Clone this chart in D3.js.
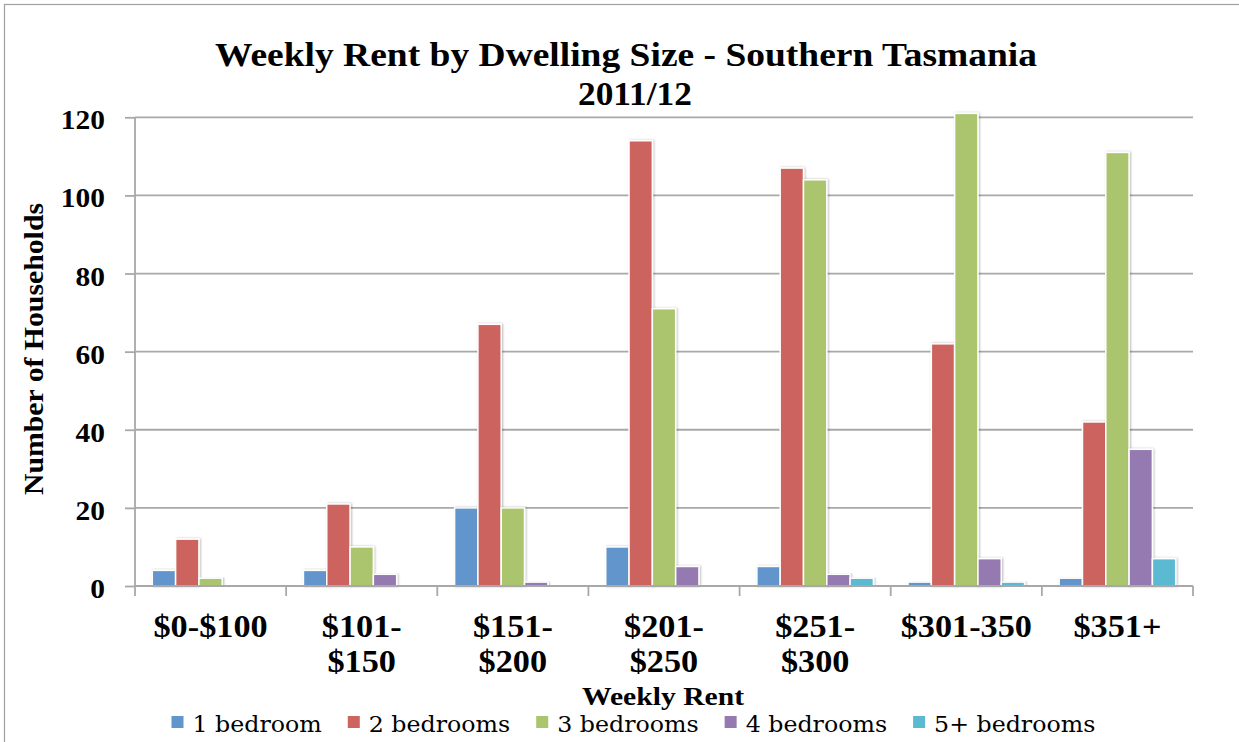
<!DOCTYPE html>
<html>
<head>
<meta charset="utf-8">
<script src="https://cdn.jsdelivr.net/npm/d3@7"></script>
<style>
  html, body { margin: 0; padding: 0; background: #fff; }
  svg { display: block; }
</style>
</head>
<body>
<svg id="chart" width="1239" height="742"></svg>
<script>
// ---- data ----
const categories = ["$0-$100", "$101-$150", "$151-$200", "$201-$250", "$251-$300", "$301-350", "$351+"];
const xTickLines = [["$0-$100"], ["$101-", "$150"], ["$151-", "$200"], ["$201-", "$250"], ["$251-", "$300"], ["$301-350"], ["$351+"]];
const seriesNames = ["1 bedroom", "2 bedrooms", "3 bedrooms", "4 bedrooms", "5+ bedrooms"];
const oneBedroom   = [4, 4, 20, 10, 5, 1, 2];
const twoBedrooms  = [12, 21, 67, 114, 107, 62, 42];
const threeBedrooms= [2, 10, 20, 71, 104, 121, 111];
const fourBedrooms = [0, 3, 1, 5, 3, 7, 35];
const fivePlusBedrooms = [0, 0, 0, 0, 2, 1, 7];
const yTicks = [0, 20, 40, 60, 80, 100, 120];
const seriesColors = ["#6295CB", "#CD645E", "#ABC46E", "#947AB1", "#5BB9D2"];

const seriesValues = [oneBedroom, twoBedrooms, threeBedrooms, fourBedrooms, fivePlusBedrooms];

// ---- layout ----
const svg = d3.select("#chart");
const plot = { left: 135, right: 1193, top: 117.3, bottom: 586 };
const boldFont = "'Liberation Serif', 'Times New Roman', serif";
const regFont = "'DejaVu Serif', serif";
const gridColor = "#a8a8a8";

function stretch(sel, k) {
  sel.each(function () {
    const l = this.getComputedTextLength();
    d3.select(this).attr("textLength", l * k).attr("lengthAdjust", "spacingAndGlyphs");
  });
}

// frame
svg.append("rect").attr("x", 4.5).attr("y", 4.5).attr("width", 1250).attr("height", 760)
  .attr("fill", "#fff").attr("stroke", "#a0a0a0").attr("stroke-width", 1.2);

// shadow filter
const defs = svg.append("defs");
const f = defs.append("filter").attr("id", "shadow").attr("x", "-30%").attr("y", "-10%").attr("width", "160%").attr("height", "120%");
f.append("feDropShadow").attr("dx", 1).attr("dy", 0).attr("stdDeviation", 1.3)
  .attr("flood-color", "#000").attr("flood-opacity", 0.28);

// scales
const x0 = d3.scaleBand().domain(categories).range([plot.left, plot.right])
  .paddingInner(0.229).paddingOuter(0.1145);
const x1 = d3.scaleBand().domain(seriesNames).range([0, x0.bandwidth()]);
const y = d3.scaleLinear().domain([0, 120]).range([plot.bottom, plot.top]);

// gridlines
svg.append("g").selectAll("line").data(yTicks.filter(d => d > 0)).join("line")
  .attr("x1", plot.left).attr("x2", plot.right)
  .attr("y1", d => y(d)).attr("y2", d => y(d))
  .attr("stroke", gridColor).attr("stroke-width", 1.8);

// y axis
const yAxis = svg.append("g").attr("transform", `translate(${plot.left},0)`)
  .call(d3.axisLeft(y).tickValues(yTicks).tickSize(10).tickPadding(20).tickFormat(d3.format("d")));
yAxis.select(".domain").attr("stroke", gridColor).attr("stroke-width", 1.8)
  .attr("d", `M0,${plot.top}V${plot.bottom}`);
yAxis.selectAll(".tick line").attr("stroke", gridColor).attr("stroke-width", 1.8);
yAxis.selectAll(".tick text")
  .attr("font-family", boldFont).attr("font-weight", "bold").attr("font-size", 27)
  .attr("fill", "#000").attr("dy", 11.5)
  .call(stretch, 1.09);

// bars
const groups = svg.append("g").selectAll("g").data(categories).join("g")
  .attr("transform", d => `translate(${x0(d)},0)`);
groups.selectAll("rect")
  .data((c, i) => seriesNames.map((s, j) => ({ s, j, v: seriesValues[j][i] })).filter(d => d.v > 0))
  .join("rect")
  .attr("x", d => x1(d.s))
  .attr("width", x1.bandwidth())
  .attr("y", d => y(d.v))
  .attr("height", d => y(0) - y(d.v))
  .attr("fill", d => seriesColors[d.j])
  .attr("stroke", "#fff").attr("stroke-width", 1.5)
  .attr("filter", "url(#shadow)");

// x axis line and boundary ticks
const gap = x0.step() - x0.bandwidth();
const boundaries = categories.map(c => x0(c) - gap / 2).concat([plot.right]);
svg.append("line").attr("x1", plot.left).attr("x2", plot.right)
  .attr("y1", plot.bottom).attr("y2", plot.bottom)
  .attr("stroke", gridColor).attr("stroke-width", 1.8);
svg.append("g").selectAll("line").data(boundaries).join("line")
  .attr("x1", d => d).attr("x2", d => d)
  .attr("y1", plot.bottom).attr("y2", plot.bottom + 10)
  .attr("stroke", gridColor).attr("stroke-width", 1.8);

// x tick labels
const xl = svg.append("g").selectAll("text").data(categories).join("text")
  .attr("font-family", boldFont).attr("font-weight", "bold").attr("font-size", 32)
  .attr("text-anchor", "middle").attr("fill", "#000");
xl.each(function (c, i) {
  const cx = x0(c) + x0.bandwidth() / 2;
  d3.select(this).selectAll("tspan").data(xTickLines[i]).join("tspan")
    .attr("x", cx).attr("y", (d, k) => 637 + k * 35).text(d => d);
});
xl.selectAll("tspan").call(stretch, 1.07);

// title
svg.append("text").attr("x", 626).attr("y", 66).attr("text-anchor", "middle")
  .attr("font-family", boldFont).attr("font-weight", "bold").attr("font-size", 34)
  .attr("textLength", 822).attr("lengthAdjust", "spacingAndGlyphs")
  .text("Weekly Rent by Dwelling Size - Southern Tasmania");
svg.append("text").attr("x", 635).attr("y", 105).attr("text-anchor", "middle")
  .attr("font-family", boldFont).attr("font-weight", "bold").attr("font-size", 34)
  .attr("textLength", 114).attr("lengthAdjust", "spacingAndGlyphs")
  .text("2011/12");

// y axis title
svg.append("text").attr("transform", "translate(43,349) rotate(-90)")
  .attr("text-anchor", "middle")
  .attr("font-family", boldFont).attr("font-weight", "bold").attr("font-size", 27)
  .attr("textLength", 292).attr("lengthAdjust", "spacingAndGlyphs")
  .text("Number of Households");

// x axis title
svg.append("text").attr("x", 663).attr("y", 705).attr("text-anchor", "middle")
  .attr("font-family", boldFont).attr("font-weight", "bold").attr("font-size", 26)
  .attr("textLength", 162).attr("lengthAdjust", "spacingAndGlyphs")
  .text("Weekly Rent");

// legend
const legend = svg.append("g");
let lx = 171.5;
seriesNames.forEach((name, j) => {
  legend.append("rect").attr("x", lx).attr("y", 716).attr("width", 12).attr("height", 12)
    .attr("fill", seriesColors[j]);
  const t = legend.append("text").attr("x", lx + 21).attr("y", 731.5)
    .attr("font-family", regFont).attr("font-size", 23).attr("fill", "#000").text(name);
  const w = t.node().getComputedTextLength() * 1.03;
  t.attr("textLength", w).attr("lengthAdjust", "spacingAndGlyphs");
  lx = lx + 21 + w + 26;
});
</script>
</body>
</html>
